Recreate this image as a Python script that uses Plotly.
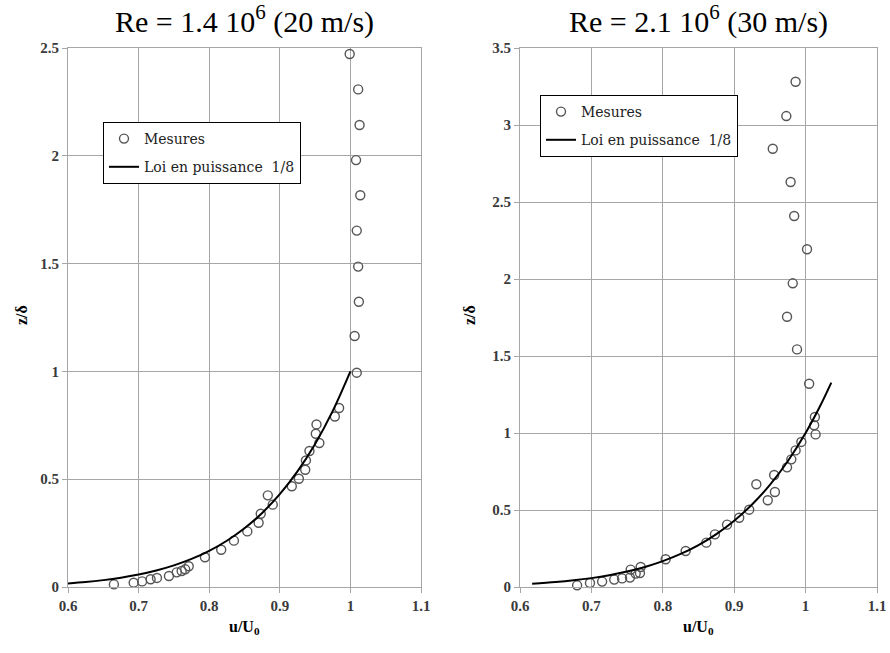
import plotly.graph_objects as go

# ---------------- data ----------------
titles = ["Re = 1.4 10<sup>6</sup> (20 m/s)", "Re = 2.1 10<sup>6</sup> (30 m/s)"]
x_ticks = [0.6, 0.7, 0.8, 0.9, 1.0, 1.1]
x_ticklabels = ["0.6", "0.7", "0.8", "0.9", "1", "1.1"]
y_ticks_left = [0, 0.5, 1, 1.5, 2, 2.5]
y_ticklabels_left = ["0", "0.5", "1", "1.5", "2", "2.5"]
y_ticks_right = [0, 0.5, 1, 1.5, 2, 2.5, 3, 3.5]
y_ticklabels_right = ["0", "0.5", "1", "1.5", "2", "2.5", "3", "3.5"]

# Left panel: measurements
meas20_u = [0.665, 0.693, 0.705, 0.717, 0.726, 0.743, 0.754, 0.761, 0.766, 0.771,
            0.794, 0.817, 0.835, 0.854, 0.870, 0.873, 0.883, 0.890, 0.917, 0.927,
            0.936, 0.937, 0.942, 0.956, 0.951, 0.952, 0.978, 0.984, 1.009,
            1.006, 1.012, 1.011, 1.009, 1.014, 1.008, 1.013, 1.011, 0.999]
meas20_z = [0.012, 0.020, 0.026, 0.036, 0.042, 0.051, 0.068, 0.074, 0.082, 0.096,
            0.138, 0.173, 0.215, 0.258, 0.298, 0.340, 0.425, 0.382, 0.467, 0.502,
            0.544, 0.587, 0.631, 0.668, 0.711, 0.754, 0.791, 0.830, 0.994,
            1.164, 1.323, 1.486, 1.653, 1.817, 1.980, 2.143, 2.308, 2.472]
# Left panel: power law 1/8 curve
law20_u = [0.600, 0.625, 0.650, 0.675, 0.700, 0.725, 0.750, 0.775, 0.800, 0.825,
           0.850, 0.875, 0.900, 0.925, 0.950, 0.975, 1.000]
law20_z = [0.0168, 0.0233, 0.0319, 0.0431, 0.0576, 0.0763, 0.1001, 0.1301, 0.1678, 0.2146,
           0.2725, 0.3436, 0.4305, 0.5360, 0.6634, 0.8167, 1.000]

# Right panel: measurements
meas30_u = [0.680, 0.698, 0.715, 0.732, 0.743, 0.754, 0.755, 0.762, 0.768, 0.769,
            0.804, 0.832, 0.861, 0.873, 0.890, 0.907, 0.921, 0.931, 0.947, 0.957,
            0.956, 0.974, 0.980, 0.986, 0.994, 1.013, 1.012, 1.014, 1.005,
            0.988, 0.974, 0.982, 1.002, 0.984, 0.979, 0.954, 0.973, 0.986]
meas30_z = [0.011, 0.026, 0.035, 0.048, 0.056, 0.061, 0.113, 0.087, 0.091, 0.130,
            0.180, 0.234, 0.288, 0.342, 0.405, 0.450, 0.502, 0.667, 0.563, 0.617,
            0.727, 0.777, 0.829, 0.887, 0.942, 1.104, 1.050, 0.991, 1.320,
            1.543, 1.755, 1.972, 2.193, 2.409, 2.630, 2.846, 3.058, 3.281]
# Right panel: power law 1/8 curve
law30_u = [0.617, 0.650, 0.675, 0.700, 0.725, 0.750, 0.775, 0.800, 0.825, 0.850,
           0.875, 0.900, 0.925, 0.950, 0.975, 1.000, 1.020, 1.036]
law30_z = [0.021, 0.0319, 0.0431, 0.0576, 0.0763, 0.1001, 0.1301, 0.1678, 0.2146, 0.2725,
           0.3436, 0.4305, 0.5360, 0.6634, 0.8167, 1.000, 1.1717, 1.327]

# ---------------- styling ----------------
SERIF = "Liberation Serif"
LEGFONT = "DejaVu Serif"
GRID = "#a6a6a6"
TICKCOL = "#3a3a3a"
MARKER = dict(symbol="circle-open", size=9, color="#555555", line=dict(width=1.4, color="#555555"))

fig = go.Figure()

fig.add_trace(go.Scatter(x=meas20_u, y=meas20_z, mode="markers", name="Mesures",
                         marker=MARKER, xaxis="x", yaxis="y", legend="legend",
                         legendgroup="m1", cliponaxis=False))
fig.add_trace(go.Scatter(x=law20_u, y=law20_z, mode="lines", name="Loi en puissance  1/8",
                         line=dict(color="black", width=2, shape="spline"),
                         xaxis="x", yaxis="y", legend="legend", legendgroup="l1"))
fig.add_trace(go.Scatter(x=meas30_u, y=meas30_z, mode="markers", name="Mesures",
                         marker=MARKER, xaxis="x2", yaxis="y2", legend="legend2",
                         legendgroup="m2", cliponaxis=False))
fig.add_trace(go.Scatter(x=law30_u, y=law30_z, mode="lines", name="Loi en puissance  1/8",
                         line=dict(color="black", width=2, shape="spline"),
                         xaxis="x2", yaxis="y2", legend="legend2", legendgroup="l2"))

# the page body margin is removed by a post script, so figure pixels == page pixels
W, H = 890, 653
L1, R1 = 68, 421
L2, R2 = 520, 877
TOP, BOT = 48, 587
PH = BOT - TOP


def py(page_y):
    """page y pixel -> paper fraction"""
    return (BOT - page_y) / PH


def px(page_x):
    return page_x / W


axis_common = dict(showgrid=True, gridcolor=GRID, gridwidth=1, showline=True, linecolor=GRID,
                   linewidth=1, mirror=True, ticks="outside", ticklen=5, tickcolor=GRID,
                   zeroline=False, automargin=False, ticklabeloverflow="allow",
                   tickfont=dict(family=SERIF, size=15, color=TICKCOL, weight="bold"))

legend_common = dict(xanchor="left", yanchor="top", bgcolor="white", bordercolor="black",
                     borderwidth=1, font=dict(family=LEGFONT, size=14, color="#222222"),
                     tracegroupgap=7)

fig.update_layout(
    width=W, height=H, paper_bgcolor="white", plot_bgcolor="white",
    margin=dict(l=0, r=0, t=TOP, b=H - BOT, autoexpand=False),
    showlegend=True,
    xaxis=dict(domain=[L1 / W, R1 / W], range=[0.6, 1.1], tickvals=x_ticks, ticktext=x_ticklabels,
               anchor="y", **axis_common),
    yaxis=dict(domain=[0, 1], range=[0, 2.5], tickvals=y_ticks_left, ticktext=y_ticklabels_left,
               anchor="x", **axis_common),
    xaxis2=dict(domain=[L2 / W, R2 / W], range=[0.6, 1.1], tickvals=x_ticks, ticktext=x_ticklabels,
                anchor="y2", **axis_common),
    yaxis2=dict(domain=[0, 1], range=[0, 3.5], tickvals=y_ticks_right, ticktext=y_ticklabels_right,
                anchor="x2", **axis_common),
    legend=dict(x=px(103), y=py(122), **legend_common),
    legend2=dict(x=px(540), y=py(95), **legend_common),
)

ann = []
for title, (l, r) in zip(titles, [(L1, R1), (L2, R2)]):
    cx = (l + r) / 2 / W
    ann.append(dict(text=title, x=cx, y=py(20), xref="paper", yref="paper",
                    showarrow=False, xanchor="center", yanchor="middle",
                    font=dict(family=SERIF, size=30, color="black")))
    ann.append(dict(text="<b>u/U<sub>0</sub></b>", x=cx, y=py(627),
                    xref="paper", yref="paper", showarrow=False, xanchor="center", yanchor="middle",
                    font=dict(family=SERIF, size=16, color="black")))
for xpix in [21, 469]:
    ann.append(dict(text="<b>z/δ</b>", x=px(xpix), y=py(315), xref="paper",
                    yref="paper", showarrow=False, textangle=-90, xanchor="center",
                    yanchor="middle", font=dict(family=SERIF, size=16, color="black")))
fig.update_layout(annotations=ann)

fig.write_html("out.html", config={"displayModeBar": False},
               post_script="document.body.style.margin='0';document.body.style.overflow='hidden';")
